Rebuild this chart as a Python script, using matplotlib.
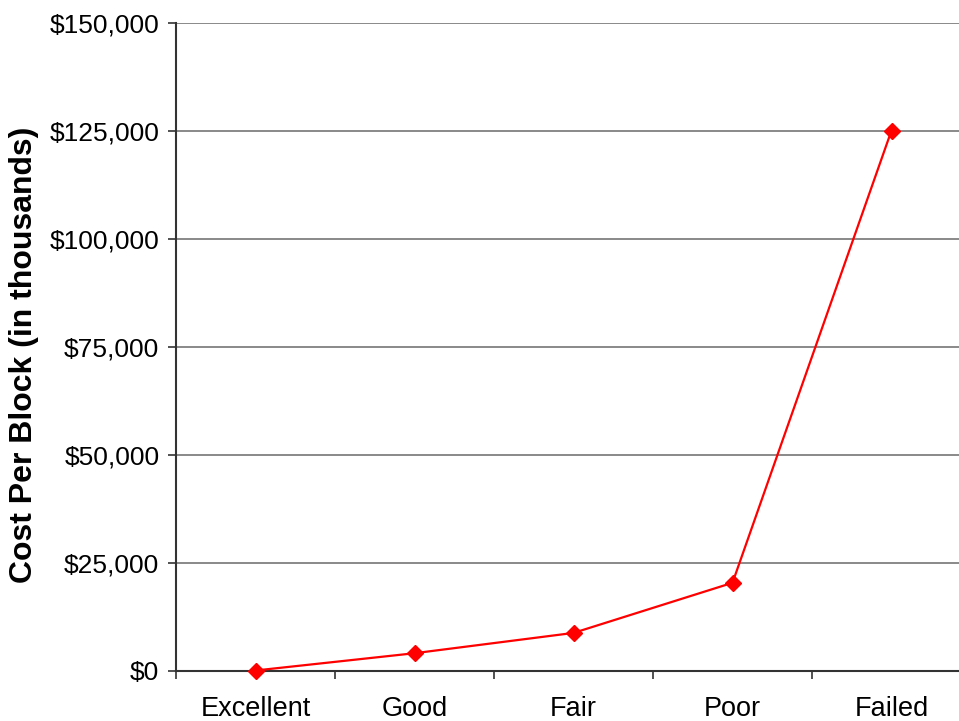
import matplotlib
matplotlib.use("Agg")
import matplotlib.pyplot as plt
from matplotlib.ticker import FuncFormatter, FixedLocator, NullFormatter

categories = ["Excellent", "Good", "Fair", "Poor", "Failed"]
costs = [0, 4000, 8700, 20300, 125000]
y_ticks = [0, 25000, 50000, 75000, 100000, 125000, 150000]

plt.rcParams['font.family'] = ['Liberation Sans', 'DejaVu Sans']

fig = plt.figure(figsize=(9.59, 7.21), dpi=100)
W, H = 959, 721
left, right, top, bottom = 176, 971, 22.5, 670.5
ax = fig.add_axes([left / W, 1 - bottom / H, (right - left) / W, (bottom - top) / H])

x = list(range(len(categories)))
ax.plot(x, costs, color="#ff0000", lw=1.6, marker="D", markersize=8.5,
        markeredgecolor="#ff0000", markerfacecolor="#ff0000", zorder=5, clip_on=False)

ax.set_xlim(-0.5, len(categories) - 0.5)
ax.set_ylim(0, 150000)
ax.set_yticks(y_ticks)
ax.yaxis.set_major_formatter(FuncFormatter(lambda v, p: f"${v:,.0f}"))
ax.grid(axis="y", color="#808080", lw=1.3)
ax.set_axisbelow(True)

ax.xaxis.set_major_locator(FixedLocator([i + 0.5 for i in range(-1, len(categories))]))
ax.xaxis.set_major_formatter(NullFormatter())
ax.xaxis.set_minor_locator(FixedLocator(x))
ax.set_xticklabels(categories, minor=True)
ax.tick_params(axis="x", which="minor", length=0, pad=18.5, labelsize=19.5)
ax.tick_params(axis="x", which="major", length=6, width=1.2, color="#333333")
ax.tick_params(axis="y", length=6, width=1.2, color="#333333", labelsize=19, pad=6)

for s in ["top", "right"]:
    ax.spines[s].set_visible(False)
for s in ["left", "bottom"]:
    ax.spines[s].set_color("#333333")
    ax.spines[s].set_linewidth(1.5)

ax.set_ylabel("Cost Per Block (in thousands)", fontsize=23, fontweight="bold")
ax.yaxis.set_label_coords(-0.172, 0.487)

fig.savefig("out.png", dpi=100)
